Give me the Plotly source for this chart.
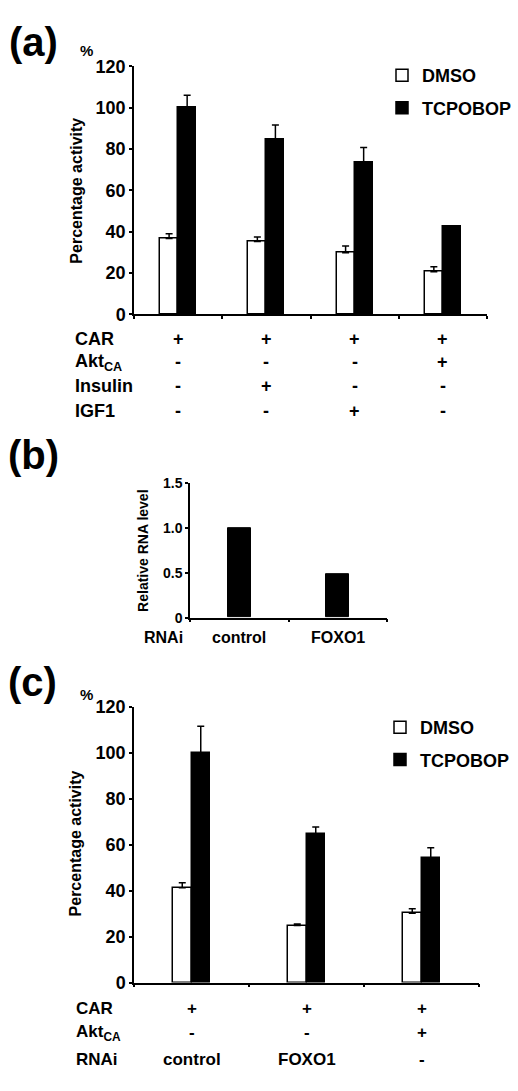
import plotly.graph_objects as go

# ---------------- data ----------------
# panel (a)
a_groups = [0, 1, 2, 3]
a_dmso = [36.7, 35.2, 29.8, 20.6]
a_dmso_err = [2.3, 2.2, 3.3, 2.4]
a_tcp = [100.0, 84.9, 73.5, 42.4]
a_tcp_err = [6.0, 6.7, 7.3, 0.4]
a_rows = ["CAR", "Akt<sub>CA</sub>", "Insulin", "IGF1"]
a_table = [["+", "+", "+", "+"],
           ["-", "-", "-", "+"],
           ["-", "+", "-", "-"],
           ["-", "-", "+", "-"]]
a_yticks = [0, 20, 40, 60, 80, 100, 120]

# panel (b)
b_groups = [0, 1]
b_rna = [1.0, 0.49]
b_rows = ["RNAi"]
b_table = [["control", "FOXO1"]]
b_yticks = [0, 0.5, 1.0, 1.5]
b_yticktext = ["0", "0.5", "1.0", "1.5"]

# panel (c)
c_groups = [0, 1, 2]
c_dmso = [41.3, 24.8, 30.2]
c_dmso_err = [2.2, 0.7, 1.9]
c_tcp = [100.0, 64.7, 54.2]
c_tcp_err = [11.6, 3.0, 4.5]
c_rows = ["CAR", "Akt<sub>CA</sub>", "RNAi"]
c_table = [["+", "+", "+"],
           ["-", "-", "+"],
           ["control", "FOXO1", "-"]]
c_yticks = [0, 20, 40, 60, 80, 100, 120]

series_names = ["DMSO", "TCPOBOP"]

# ---------------- layout helpers ----------------
W, H = 518, 1091
FONT = "Liberation Sans"


def px(x):
    return x / W


def py(y):
    return 1 - y / H


fig = go.Figure()

bold = dict(family=FONT, weight="bold", color="black")


def add_pair(xa, ya, xs, dmso, dmso_err, tcp, tcp_err, w, legend, show):
    fig.add_trace(go.Bar(
        x=xs, y=dmso, name=series_names[0], xaxis=xa, yaxis=ya,
        offset=-w, width=w,
        marker=dict(color="white", line=dict(color="black", width=1.5)),
        error_y=dict(type="data", symmetric=False, array=dmso_err,
                     arrayminus=[0] * len(xs), color="black",
                     thickness=1.5, width=3.5),
        legend=legend, legendgroup=legend + "d", showlegend=show))
    fig.add_trace(go.Bar(
        x=xs, y=tcp, name=series_names[1], xaxis=xa, yaxis=ya,
        offset=0, width=w,
        marker=dict(color="black", line=dict(color="black", width=1.5)),
        error_y=dict(type="data", symmetric=False, array=tcp_err,
                     arrayminus=[0] * len(xs), color="black",
                     thickness=1.5, width=3.5),
        legend=legend, legendgroup=legend + "t", showlegend=show))


add_pair("x", "y", a_groups, a_dmso, a_dmso_err, a_tcp, a_tcp_err,
         18 / 88, "legend", True)
fig.add_trace(go.Bar(
    x=b_groups, y=b_rna, xaxis="x2", yaxis="y2", width=23 / 98.5,
    marker=dict(color="black", line=dict(color="black", width=1)),
    showlegend=False))
add_pair("x3", "y3", c_groups, c_dmso, c_dmso_err, c_tcp, c_tcp_err,
         18.5 / 115, "legend2", True)

axis_common = dict(showline=True, linecolor="black", linewidth=1.5,
                   showgrid=False, zeroline=False, ticks="outside",
                   ticklen=3, tickwidth=1.5, tickcolor="black")


def xaxis(n, x0, x1, anchor):
    return dict(domain=[px(x0), px(x1)], range=[-0.5, n - 0.5],
                tickvals=[i + 0.5 for i in range(-1, n)],
                showticklabels=False, anchor=anchor, fixedrange=True,
                **axis_common)


def yaxis(y_top, y_bot, rng, tv, tt, size, anchor):
    return dict(domain=[py(y_bot), py(y_top)], range=rng, tickvals=tv,
                ticktext=tt, tickfont=dict(size=size, **bold),
                anchor=anchor, **axis_common)


fig.update_layout(
    width=W, height=H, margin=dict(l=0, r=0, t=0, b=0),
    paper_bgcolor="white", plot_bgcolor="white",
    font=dict(family=FONT, weight="bold", color="black"),
    barmode="overlay", bargap=0,
    xaxis=xaxis(len(a_groups), 134, 487, "y"),
    yaxis=yaxis(57.5, 310, [0, 120], a_yticks, [str(v) for v in a_yticks], 18, "x"),
    xaxis2=xaxis(len(b_groups), 190, 387, "y2"),
    yaxis2=yaxis(482, 619, [0, 1.5], b_yticks, b_yticktext, 14, "x2"),
    xaxis3=xaxis(len(c_groups), 134, 479, "y3"),
    yaxis3=yaxis(710, 990.7, [0, 120], c_yticks, [str(v) for v in c_yticks], 18, "x3"),
    legend=dict(x=px(382), y=py(48), xanchor="left", yanchor="top",
                font=dict(size=18, **bold), tracegroupgap=6,
                bgcolor="rgba(0,0,0,0)", itemwidth=30),
    legend2=dict(x=px(380), y=py(712), xanchor="left", yanchor="top",
                 font=dict(size=18, **bold), tracegroupgap=6,
                 bgcolor="rgba(0,0,0,0)", itemwidth=30),
)

ann = []


def text(x, y, s, size, xanchor="center", xref="paper", angle=0):
    ann.append(dict(x=x, y=py(y), text=s, xref=xref, yref="paper",
                    showarrow=False, xanchor=xanchor, yanchor="middle",
                    textangle=angle, font=dict(size=size, **bold)))


# panel labels
text(px(33), 33, "(a)", 40)
text(px(33), 453, "(b)", 40)
text(px(32), 685, "(c)", 40)
# percent signs
text(px(86), 41, "%", 15)
text(px(86), 697, "%", 15)
# y titles
text(px(77), 184, "Percentage activity", 16, angle=-90)
text(px(143), 551, "Relative RNA level", 14, angle=-90)
text(px(75), 849, "Percentage activity", 16, angle=-90)

# table (a)
for r, (lab, vals, yy) in enumerate(zip(a_rows, a_table, [335, 359, 383, 408])):
    text(px(73), yy, lab, 18, xanchor="left")
    for g, v in zip(a_groups, vals):
        text(g, yy, v, 18, xref="x")
# table (b)
for lab, vals in zip(b_rows, b_table):
    text(px(142), 639, lab, 16, xanchor="left")
    for g, v in zip(b_groups, vals):
        text(g, 639, v, 16, xref="x2")
# table (c)
for lab, vals, yy in zip(c_rows, c_table, [1017, 1042, 1069]):
    text(px(74), yy, lab, 17, xanchor="left")
    for g, v in zip(c_groups, vals):
        text(g, yy, v, 17, xref="x3")

fig.update_layout(annotations=ann)
fig.write_html(
    "out.html",
    config={"displayModeBar": False},
    post_script="document.body.style.margin='0';"
                "document.body.style.overflow='hidden';",
)
